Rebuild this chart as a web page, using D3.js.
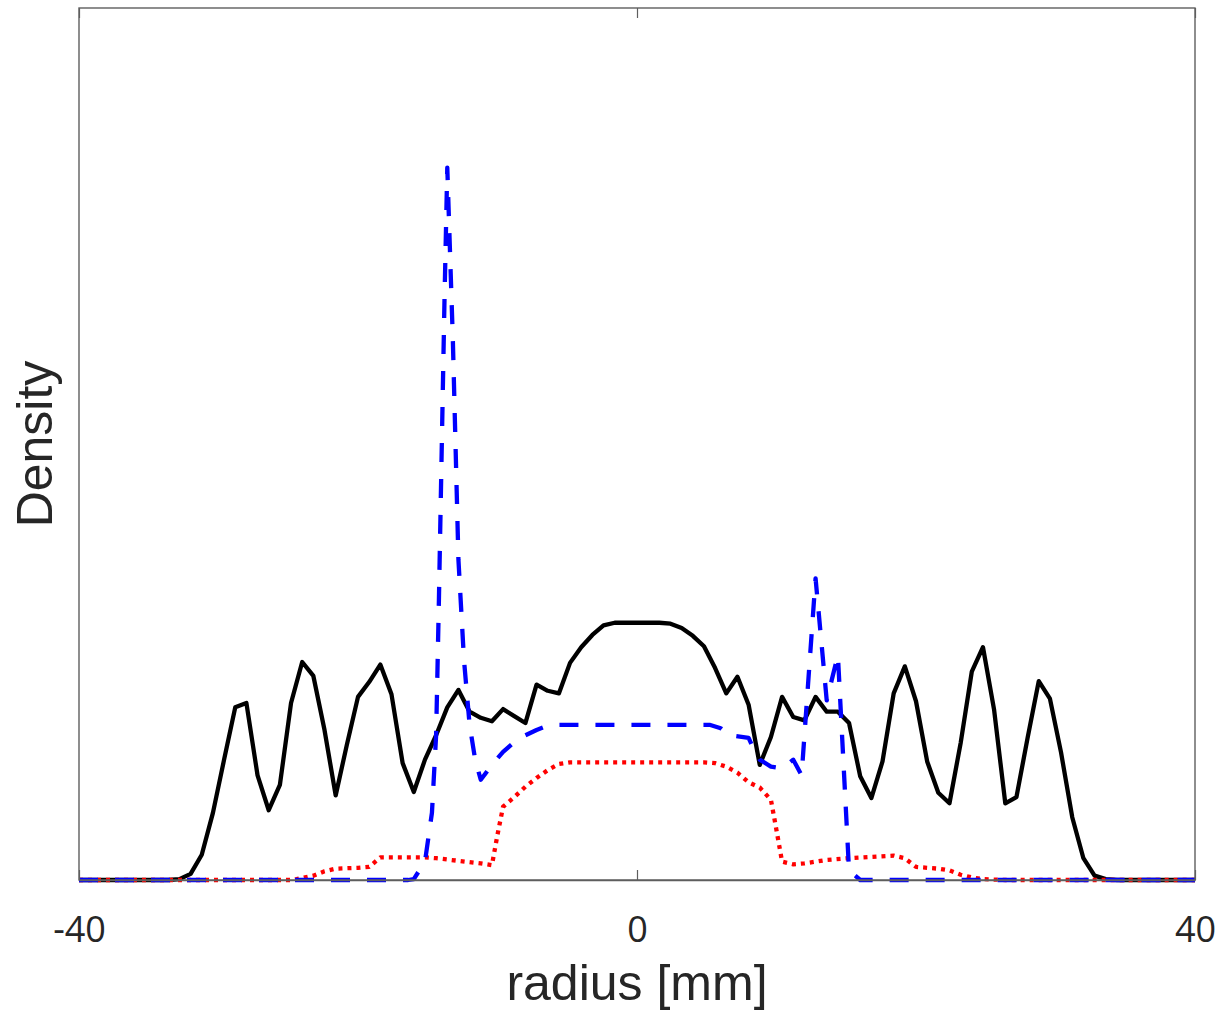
<!DOCTYPE html>
<html>
<head>
<meta charset="utf-8">
<script src="https://cdn.jsdelivr.net/npm/d3@7"></script>
<style>
    body { margin: 0; background: #fff; }
    svg { display: block; }
</style>
</head>
<body>
<svg id="chart" width="1230" height="1012"></svg>
<script>
// x ticks
const x_ticks = [-40, 0, 40];

// total density (black, solid)
const total_r = [-40, -33.6, -32.8, -32.0, -31.2, -30.4, -29.6, -28.8, -28.0, -27.2, -26.4, -25.6, -24.8, -24.0, -23.2, -22.4, -21.6, -20.8, -20.0, -19.2, -18.4, -17.6, -16.8, -16.0, -15.2, -14.4, -13.6, -12.8, -12.0, -11.2, -10.4, -9.6, -8.8, -8.0, -7.2, -6.4, -5.6, -4.8, -4.0, -3.2, -2.4, -1.6, -0.8, 0, 0.8, 1.6, 2.4, 3.2, 4.0, 4.8, 5.6, 6.4, 7.2, 8.0, 8.8, 9.6, 10.4, 11.2, 12.0, 12.8, 13.6, 14.4, 15.2, 16.0, 16.8, 17.6, 18.4, 19.2, 20.0, 20.8, 21.6, 22.4, 23.2, 24.0, 24.8, 25.6, 26.4, 27.2, 28.0, 28.8, 29.6, 30.4, 31.2, 32.0, 32.8, 33.6, 34.4, 40];
const total_d = [0, 0, 0.01, 0.07, 0.29, 0.77, 1.38, 1.98, 2.03, 1.20, 0.80, 1.09, 2.03, 2.50, 2.34, 1.72, 0.97, 1.55, 2.10, 2.27, 2.47, 2.13, 1.34, 1.01, 1.38, 1.66, 1.98, 2.18, 1.93, 1.86, 1.82, 1.96, 1.88, 1.80, 2.24, 2.17, 2.14, 2.49, 2.67, 2.81, 2.92, 2.95, 2.95, 2.95, 2.95, 2.95, 2.94, 2.89, 2.80, 2.68, 2.43, 2.14, 2.33, 2.01, 1.32, 1.64, 2.10, 1.87, 1.83, 2.10, 1.93, 1.93, 1.80, 1.19, 0.94, 1.36, 2.14, 2.45, 2.05, 1.36, 1.00, 0.88, 1.57, 2.39, 2.67, 1.95, 0.88, 0.95, 1.63, 2.28, 2.08, 1.46, 0.72, 0.25, 0.05, 0.01, 0, 0];

// blue, dashed
const blue_r = [-40, -16.4, -16.0, -15.2, -14.7, -14.4, -14.2, -13.8, -13.6, -13.2, -12.8, -12.4, -12.0, -11.6, -11.2, -10.4, -9.6, -8.8, -8.0, -7.2, -6.4, -5.6, 5.2, 6.0, 6.6, 8.0, 8.4, 8.8, 9.6, 10.4, 11.2, 11.8, 12.8, 13.6, 14.4, 15.2, 16.0, 40];
const blue_d = [0, 0, 0.01, 0.21, 0.77, 1.66, 3.21, 6.65, 8.17, 6.19, 3.67, 2.52, 1.78, 1.38, 1.15, 1.32, 1.47, 1.58, 1.66, 1.72, 1.77, 1.78, 1.78, 1.74, 1.66, 1.63, 1.49, 1.38, 1.30, 1.28, 1.38, 1.20, 3.46, 2.06, 2.58, 0.11, 0, 0];

// red, dotted
const red_r = [-40, -24.8, -24.4, -23.2, -22.4, -21.6, -20.0, -19.2, -18.4, -15.2, -14.4, -12.8, -11.2, -10.4, -10.0, -9.6, -8.8, -8.0, -7.2, -6.4, -5.6, -4.8, 4.8, 5.6, 6.4, 7.2, 8.0, 8.8, 9.6, 10.0, 10.4, 11.2, 12.0, 13.6, 15.2, 18.4, 19.2, 20.0, 21.6, 22.4, 23.2, 24.0, 24.8, 26.4, 40];
const red_d = [0, 0, 0.01, 0.05, 0.10, 0.13, 0.14, 0.15, 0.26, 0.26, 0.25, 0.22, 0.19, 0.17, 0.52, 0.84, 0.95, 1.07, 1.17, 1.26, 1.33, 1.35, 1.35, 1.34, 1.30, 1.23, 1.12, 1.06, 0.92, 0.57, 0.21, 0.18, 0.19, 0.23, 0.25, 0.28, 0.25, 0.15, 0.13, 0.11, 0.06, 0.03, 0.01, 0, 0];

const width = 1230, height = 1012;
const margin = {top: 8, right: 35, bottom: 132, left: 79};

const svg = d3.select("#chart");

const x = d3.scaleLinear()
    .domain([-40, 40])
    .range([margin.left, width - margin.right]);
const y = d3.scaleLinear()
    .domain([0, 10])
    .range([height - margin.bottom, margin.top]);

const line = d3.line()
    .x(d => x(d[0]))
    .y(d => y(d[1]));

// 선 그리기
const series = [
    {r: total_r, d: total_d, color: "#000000", dash: null},
    {r: red_r, d: red_d, color: "#ff0000", dash: "4,5"},
    {r: blue_r, d: blue_d, color: "#0000ff", dash: "19,17"}
];

const plot = svg.append("g").attr("class", "lines");
series.forEach(s => {
    plot.append("path")
        .datum(s.r.map((r, i) => [r, s.d[i]]))
        .attr("d", line)
        .attr("fill", "none")
        .attr("stroke", s.color)
        .attr("stroke-width", 4.3)
        .attr("stroke-linejoin", "round")
        .attr("stroke-dasharray", s.dash);
});

// box
const axisColor = "#5e5e5e";
svg.append("rect")
    .attr("x", x(-40))
    .attr("y", y(10))
    .attr("width", x(40) - x(-40))
    .attr("height", y(0) - y(10))
    .attr("fill", "none")
    .attr("stroke", axisColor)
    .attr("stroke-width", 1.4);

// axes (ticks point inward)
const xAxis = svg.append("g")
    .attr("transform", "translate(0," + y(0) + ")")
    .call(d3.axisBottom(x).tickValues(x_ticks).tickSizeInner(-10).tickSizeOuter(0).tickPadding(36)
        .tickFormat(d => String(d)));
xAxis.select(".domain").attr("stroke", axisColor).attr("stroke-width", 1.4);
xAxis.selectAll(".tick line").attr("stroke", axisColor).attr("stroke-width", 1.2);
xAxis.selectAll(".tick text")
    .attr("fill", "#262626")
    .style("font-family", "'Open Sans', sans-serif")
    .style("font-size", "36px");

const xTop = svg.append("g")
    .attr("transform", "translate(0," + y(10) + ")")
    .call(d3.axisTop(x).tickValues(x_ticks).tickSizeInner(-10).tickSizeOuter(0).tickFormat(""));
xTop.select(".domain").remove();
xTop.selectAll(".tick line").attr("stroke", axisColor).attr("stroke-width", 1.2);

// labels
svg.append("text")
    .attr("x", x(0))
    .attr("y", 1000)
    .attr("text-anchor", "middle")
    .attr("fill", "#262626")
    .style("font-family", "'Liberation Sans', Arial, sans-serif")
    .style("font-size", "50px")
    .text("radius [mm]");

svg.append("text")
    .attr("transform", "translate(52," + y(5) + ") rotate(-90)")
    .attr("text-anchor", "middle")
    .attr("fill", "#262626")
    .style("font-family", "'Liberation Sans', Arial, sans-serif")
    .style("font-size", "50px")
    .text("Density");
</script>
</body>
</html>
